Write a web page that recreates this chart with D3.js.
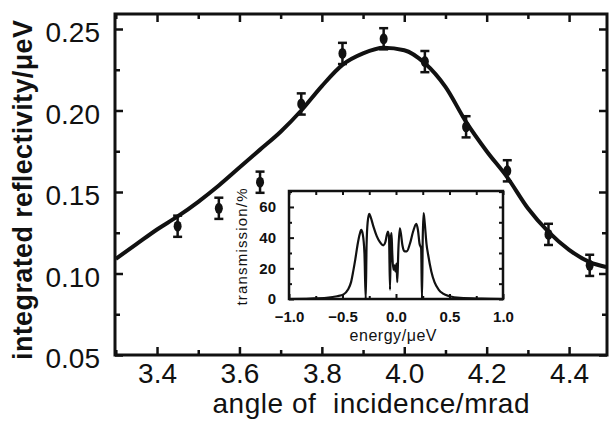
<!DOCTYPE html>
<html>
<head>
<meta charset="utf-8">
<script src="https://cdnjs.cloudflare.com/ajax/libs/d3/7.8.5/d3.min.js"></script>
<style>
  body { margin: 0; background: #fff; }
  svg { display: block; }
  .tick text { font-family: "Liberation Sans", Arial, sans-serif; fill: #111; }
</style>
</head>
<body>
<div id="chart"></div>
<script>
// measured reflectivity points
var angles = [3.45, 3.55, 3.65, 3.75, 3.85, 3.95, 4.05, 4.15, 4.25, 4.35, 4.45];
var reflectivity = [0.129, 0.140, 0.156, 0.204, 0.235, 0.244, 0.230, 0.190, 0.163, 0.124, 0.105];
var errors = [0.0065, 0.0065, 0.0065, 0.0065, 0.0065, 0.0065, 0.0065, 0.0065, 0.0065, 0.0065, 0.0065];

// fitted curve
var fitAngles = [3.30, 3.35, 3.40, 3.45, 3.50, 3.55, 3.60, 3.65, 3.70, 3.75, 3.80, 3.85, 3.90, 3.95, 4.00,
                 4.05, 4.10, 4.15, 4.20, 4.25, 4.30, 4.35, 4.40, 4.45, 4.49];
var fitValues = [0.109, 0.118, 0.127, 0.135, 0.144, 0.154, 0.165, 0.176, 0.187, 0.200, 0.215, 0.228, 0.235, 0.2385, 0.237,
                 0.229, 0.2145, 0.193, 0.175, 0.159, 0.140, 0.1255, 0.1145, 0.107, 0.104];

var xTicks = [3.4, 3.6, 3.8, 4.0, 4.2, 4.4];
var xMinor = [3.3, 3.5, 3.7, 3.9, 4.1, 4.3];
var yTicks = [0.05, 0.10, 0.15, 0.20, 0.25];
var yMinor = [0.075, 0.125, 0.175, 0.225];

// inset transmission spectrum
var energy = [-1.00, -0.80, -0.65, -0.55, -0.49, -0.45, -0.42, -0.40, -0.38, -0.36, -0.34, -0.325, -0.31, -0.295, -0.283,
              -0.275, -0.265, -0.25, -0.235, -0.21, -0.18, -0.15, -0.12, -0.10, -0.085, -0.075, -0.065, -0.056, -0.048,
              -0.042, -0.035, -0.025, -0.015, -0.005, 0.005, 0.012, 0.022, 0.035, 0.045, 0.06, 0.08, 0.10, 0.13, 0.16,
              0.19, 0.205, 0.22, 0.235, 0.243, 0.25, 0.258, 0.268, 0.285, 0.30, 0.33, 0.36, 0.40, 0.44, 0.50, 0.60, 0.80, 1.00];
var transmission = [0, 0.3, 0.8, 1.8, 3, 6, 11, 18, 26, 35, 42, 45, 42, 30, 0,
                    35, 50, 55.5, 53, 47, 41, 37, 35, 37, 42, 44, 40, 6, 40,
                    43, 30, 19, 22, 18, 23, 11, 32, 46, 43, 35, 31, 31, 36, 44,
                    49, 45, 36, 33, 0, 40, 56, 50, 36, 29, 18, 11, 6, 3.5, 1.8, 0.7, 0.2, 0];
var eTicks = [-1.0, -0.5, 0.0, 0.5, 1.0];
var eMinor = [-0.75, -0.25, 0.25, 0.75];
var tTicks = [0, 20, 40, 60];
var tMinor = [10, 30, 50, 70];

var W = 609, H = 436;
var L = 115, R = 607, T = 14, B = 355;

var svg = d3.select("#chart").append("svg")
    .attr("width", W)
    .attr("height", H)
    .style("background", "#fff");

var x = d3.scaleLinear().domain([3.298, 4.492]).range([L, R]);
var y = d3.scaleLinear().domain([0.05, 0.2592]).range([B, T]);

function styleAxis(g) {
  g.select(".domain").remove();
  g.selectAll(".tick line").attr("stroke", "#111").attr("stroke-width", 2.5);
  g.selectAll(".tick text").style("font-size", "28px");
}

// main axes: inward ticks on all sides
svg.append("g").attr("transform", "translate(0," + B + ")")
    .call(d3.axisBottom(x).tickValues(xTicks).tickFormat(d3.format(".1f")).tickSize(-8).tickPadding(8))
    .call(styleAxis);
svg.append("g").attr("transform", "translate(0," + B + ")")
    .call(d3.axisBottom(x).tickValues(xMinor).tickFormat("").tickSize(-5))
    .call(styleAxis);
svg.append("g").attr("transform", "translate(0," + T + ")")
    .call(d3.axisTop(x).tickValues(xTicks).tickFormat("").tickSize(-8))
    .call(styleAxis);
svg.append("g").attr("transform", "translate(0," + T + ")")
    .call(d3.axisTop(x).tickValues(xMinor).tickFormat("").tickSize(-5))
    .call(styleAxis);

var yl = svg.append("g").attr("transform", "translate(" + L + ",0)")
    .call(d3.axisLeft(y).tickValues(yTicks).tickFormat(d3.format(".2f")).tickSize(-8).tickPadding(15))
    .call(styleAxis);
yl.selectAll(".tick text").attr("dy", "0.45em");
svg.append("g").attr("transform", "translate(" + L + ",0)")
    .call(d3.axisLeft(y).tickValues(yMinor).tickFormat("").tickSize(-5))
    .call(styleAxis);
svg.append("g").attr("transform", "translate(" + R + ",0)")
    .call(d3.axisRight(y).tickValues(yTicks).tickFormat("").tickSize(-8))
    .call(styleAxis);
svg.append("g").attr("transform", "translate(" + R + ",0)")
    .call(d3.axisRight(y).tickValues(yMinor).tickFormat("").tickSize(-5))
    .call(styleAxis);

svg.append("rect")
    .attr("x", L).attr("y", T)
    .attr("width", R - L).attr("height", B - T)
    .attr("fill", "none").attr("stroke", "#111").attr("stroke-width", 3);

// fitted curve
var fit = fitAngles.map(function(a, i) { return [a, fitValues[i]]; });
svg.append("path")
    .datum(fit)
    .attr("fill", "none")
    .attr("stroke", "#111")
    .attr("stroke-width", 4)
    .attr("stroke-linejoin", "round")
    .attr("d", d3.line()
        .x(function(d) { return x(d[0]); })
        .y(function(d) { return y(d[1]); })
        .curve(d3.curveMonotoneX));

// data points with error bars
var pts = angles.map(function(a, i) { return {a: a, v: reflectivity[i], e: errors[i]}; });
var pg = svg.append("g").selectAll("g").data(pts).enter().append("g");
pg.append("line")
    .attr("x1", function(d) { return x(d.a); }).attr("x2", function(d) { return x(d.a); })
    .attr("y1", function(d) { return y(d.v - d.e); }).attr("y2", function(d) { return y(d.v + d.e); })
    .attr("stroke", "#111").attr("stroke-width", 2.5);
pg.selectAll(".cap").data(function(d) { return [d.v - d.e, d.v + d.e].map(function(v) { return {a: d.a, v: v}; }); })
  .enter().append("line")
    .attr("x1", function(d) { return x(d.a) - 4.5; }).attr("x2", function(d) { return x(d.a) + 4.5; })
    .attr("y1", function(d) { return y(d.v); }).attr("y2", function(d) { return y(d.v); })
    .attr("stroke", "#111").attr("stroke-width", 2.5);
pg.append("ellipse")
    .attr("cx", function(d) { return x(d.a); })
    .attr("cy", function(d) { return y(d.v); })
    .attr("rx", 4).attr("ry", 5.5)
    .attr("fill", "#111");

// axis titles
svg.append("text")
    .attr("transform", "translate(32,190) rotate(-90)")
    .attr("text-anchor", "middle")
    .attr("textLength", 340)
    .style("font-family", "'Liberation Sans', Arial, sans-serif")
    .style("font-size", "27px")
    .style("font-weight", "bold")
    .style("fill", "#111")
    .text("integrated reflectivity/\u03bceV");

svg.append("text")
    .attr("x", 371).attr("y", 413)
    .attr("text-anchor", "middle")
    .attr("textLength", 317)
    .style("font-family", "'Liberation Sans', Arial, sans-serif")
    .style("font-size", "28px")
    .style("fill", "#111")
    .style("white-space", "pre")
    .text("angle of  incidence/mrad");

// inset
var iL = 289, iR = 503, iT = 191, iB = 299;
var ex = d3.scaleLinear().domain([-1, 1]).range([iL, iR]);
var ty = d3.scaleLinear().domain([0, 70.4]).range([iB, iT]);

svg.append("rect")
    .attr("x", iL).attr("y", iT)
    .attr("width", iR - iL).attr("height", iB - iT)
    .attr("fill", "#fff");

var ins = svg.append("g");
function styleInset(g) {
  g.select(".domain").remove();
  g.selectAll(".tick line").attr("stroke", "#111").attr("stroke-width", 2);
  g.selectAll(".tick text")
    .style("font-size", "15px").style("font-weight", "bold");
}
ins.append("g").attr("transform", "translate(0," + iB + ")")
    .call(d3.axisBottom(ex).tickValues(eTicks).tickFormat(d3.format(".1f")).tickSize(-5).tickPadding(12))
    .call(styleInset);
ins.append("g").attr("transform", "translate(0," + iB + ")")
    .call(d3.axisBottom(ex).tickValues(eMinor).tickFormat("").tickSize(-3))
    .call(styleInset);
ins.append("g").attr("transform", "translate(0," + iT + ")")
    .call(d3.axisTop(ex).tickValues(eTicks.concat(eMinor)).tickFormat("").tickSize(-4))
    .call(styleInset);
ins.append("g").attr("transform", "translate(" + iL + ",0)")
    .call(d3.axisLeft(ty).tickValues(tTicks).tickSize(-5).tickPadding(13))
    .call(styleInset);
ins.append("g").attr("transform", "translate(" + iL + ",0)")
    .call(d3.axisLeft(ty).tickValues(tMinor).tickFormat("").tickSize(-3))
    .call(styleInset);
ins.append("g").attr("transform", "translate(" + iR + ",0)")
    .call(d3.axisRight(ty).tickValues(tTicks.concat(tMinor)).tickFormat("").tickSize(-4))
    .call(styleInset);

ins.append("rect")
    .attr("x", iL).attr("y", iT)
    .attr("width", iR - iL).attr("height", iB - iT)
    .attr("fill", "none").attr("stroke", "#111").attr("stroke-width", 2.5);

var spec = energy.map(function(e, i) { return [e, transmission[i]]; });
ins.append("path")
    .datum(spec)
    .attr("fill", "none")
    .attr("stroke", "#111")
    .attr("stroke-width", 2.2)
    .attr("stroke-linejoin", "round")
    .attr("d", d3.line()
        .x(function(d) { return ex(d[0]); })
        .y(function(d) { return ty(d[1]); })
        .curve(d3.curveMonotoneX));

ins.append("text")
    .attr("transform", "translate(247,247) rotate(-90)")
    .attr("text-anchor", "middle")
    .attr("textLength", 117)
    .style("font-family", "'Liberation Sans', Arial, sans-serif")
    .style("font-size", "15px")
    .style("fill", "#111")
    .text("transmission/%");

ins.append("text")
    .attr("x", 393).attr("y", 341)
    .attr("text-anchor", "middle")
    .attr("textLength", 87)
    .style("font-family", "'Liberation Sans', Arial, sans-serif")
    .style("font-size", "16px")
    .style("fill", "#111")
    .text("energy/\u03bceV");
</script>
</body>
</html>
